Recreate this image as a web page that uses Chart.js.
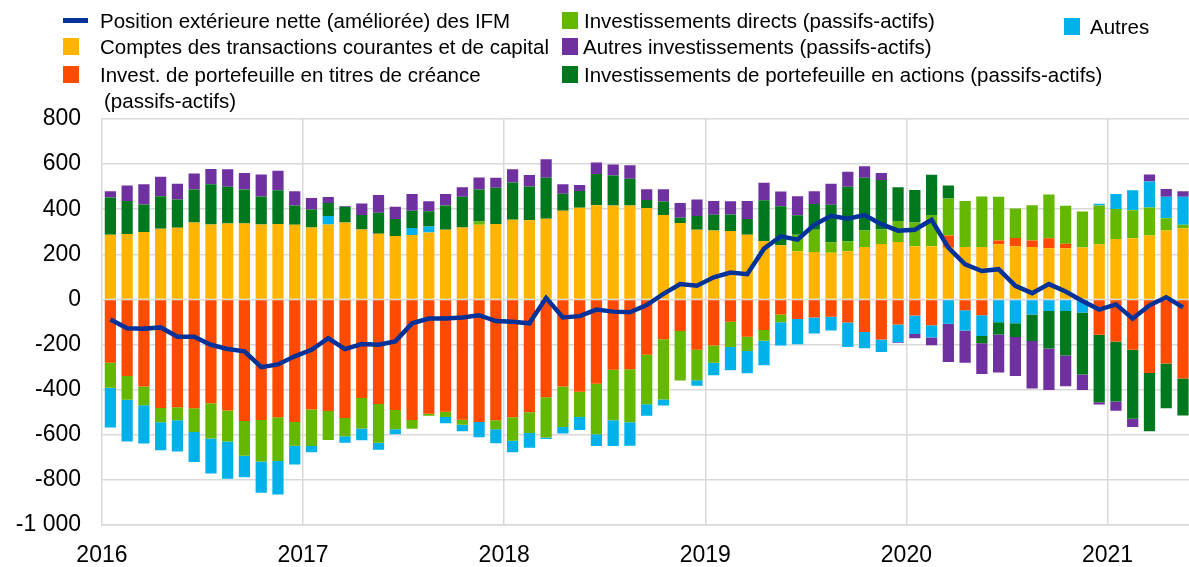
<!DOCTYPE html>
<html>
<head>
<meta charset="utf-8">
<title>Position extérieure nette des IFM</title>
<script src="https://cdn.jsdelivr.net/npm/chart.js@4"></script>
<style>
  html, body { margin: 0; padding: 0; background: #fff; overflow: hidden; }
  #wrap { position: relative; width: 1189px; height: 567px; overflow: hidden; }
  #chart { position: absolute; left: 0; top: 0; }
  .lg { position: absolute; font-family: 'Liberation Sans', Arial, sans-serif; font-size: 20.5px; color: #000; white-space: nowrap; line-height: 24px; }
  .sw { position: absolute; }
</style>
</head>
<body>
<div id="wrap">
  <canvas id="chart" width="1200" height="567"></canvas>
  <div id="legend"></div>
</div>
<script>
// months, Jan 2016 .. May 2021
const categories = [
  '2016-01','2016-02','2016-03','2016-04','2016-05','2016-06','2016-07','2016-08','2016-09','2016-10','2016-11','2016-12',
  '2017-01','2017-02','2017-03','2017-04','2017-05','2017-06','2017-07','2017-08','2017-09','2017-10','2017-11','2017-12',
  '2018-01','2018-02','2018-03','2018-04','2018-05','2018-06','2018-07','2018-08','2018-09','2018-10','2018-11','2018-12',
  '2019-01','2019-02','2019-03','2019-04','2019-05','2019-06','2019-07','2019-08','2019-09','2019-10','2019-11','2019-12',
  '2020-01','2020-02','2020-03','2020-04','2020-05','2020-06','2020-07','2020-08','2020-09','2020-10','2020-11','2020-12',
  '2021-01','2021-02','2021-03','2021-04','2021-05'
];

// Comptes des transactions courantes et de capital
const currentCapital = [
  287, 290, 299, 313, 318, 341, 332, 337, 337, 332, 334, 331,
  319, 332, 341, 310, 291, 281, 286, 297, 309, 319, 331, 335,
  353, 351, 358, 393, 407, 418, 417, 417, 405, 374, 339, 309,
  306, 303, 287, 258, 240, 214, 210, 207, 214, 232, 246, 255,
  236, 236, 229, 232, 233, 245, 236, 232, 227, 227, 230, 245,
  268, 271, 284, 306, 316
];
// Invest. de portefeuille en titres de créance (passifs-actifs)
const debtSecurities = [
  -281, -339, -386, -481, -478, -482, -460, -492, -539, -535, -522, -543,
  -488, -495, -526, -437, -463, -490, -535, -507, -498, -533, -543, -536,
  -522, -500, -434, -386, -409, -374, -312, -309, -245, -176, -140, -223,
  -204, -99, -165, -136, -67, -87, -80, -77, -102, -144, -178, -111,
  -71, -114, 55, -48, -70, 16, 36, 29, 44, 20, 0, -157,
  -187, -223, -326, -284, -351
];
// Investissements directs (passifs-actifs)
const directInv = [
  -111, -106, -83, -63, -58, -106, -156, -138, -154, -184, -194, -106,
  -162, -128, -80, -135, -172, -86, -38, -9, -23, -22, 15, -39,
  -105, -92, -178, -179, -112, -224, -224, -235, -220, -268, -219, -135,
  -77, -112, -64, -47, -34, 73, 99, 47, 44, 74, 64, 93,
  105, 138, 163, 204, 223, 194, 131, 157, 194, 168, 160, 172,
  133, 124, 124, 54, 15
];
// Autres
const others = [
  -176, -185, -170, -125, -138, -133, -156, -165, -95, -138, -149, -83,
  -28, 38, -29, -52, -31, -22, 31, 26, -28, -29, -68, -63,
  -50, -66, -7, -29, -58, -52, -114, -105, -51, -26, 0, -25,
  -55, -103, -98, -109, -103, -112, -71, -61, -109, -72, -55, -79,
  -82, -55, -108, -90, -92, -101, -106, -67, -51, -51, -58, 7,
  67, 89, 115, 95, 124
];
// Investissements de portefeuille en actions (passifs-actifs)
const equityInv = [
  165, 147, 122, 144, 125, 146, 179, 163, 150, 124, 150, 86,
  80, 58, 70, 64, 93, 76, 76, 68, 108, 136, 141, 160,
  166, 150, 181, 76, 74, 138, 133, 118, 36, 60, 23, 61,
  70, 74, 70, 182, 173, 86, 114, 166, 242, 233, 220, 149,
  144, 179, 58, 0, -32, -54, -61, -117, -166, -197, -275, -299,
  -265, -306, -258, -198, -163
];
// Autres investissements (passifs-actifs)
const otherInv = [
  28, 68, 90, 87, 70, 71, 67, 77, 74, 98, 87, 63,
  51, 26, 3, 51, 79, 54, 74, 44, 50, 42, 54, 45,
  58, 51, 83, 42, 26, 51, 48, 60, 48, 55, 66, 73,
  60, 58, 80, 77, 66, 85, 57, 93, 66, 52, 31, -3,
  -19, -34, -169, -143, -136, -169, -172, -211, -185, -137, -68, -10,
  -41, -36, 31, 35, 25
];
// Position extérieure nette (améliorée) des IFM
const mfiNet = [
  -89, -128, -130, -124, -165, -165, -201, -220, -230, -300, -288, -252,
  -223, -172, -220, -198, -201, -186, -106, -85, -85, -80, -70, -96,
  -99, -106, 7, -80, -74, -45, -54, -57, -25, 25, 68, 61,
  98, 119, 112, 225, 280, 265, 331, 371, 358, 374, 334, 305,
  309, 353, 230, 156, 126, 134, 60, 28, 68, 35, -7, -45,
  -22, -85, -26, 10, -35
];

const yTicks = [-1000, -800, -600, -400, -200, 0, 200, 400, 600, 800];

const COL = {
  blue: '#003299', orange: '#FFB400', red: '#FF4B00', lgreen: '#65B800',
  cyan: '#00B1EA', dgreen: '#00781E', purple: '#6F30A0'
};

function bar(label, data, color) {
  return { type: 'bar', label, data, backgroundColor: color, borderWidth: 0,
           order: 1, barPercentage: 0.67, categoryPercentage: 1 };
}

const datasets = [
  { type: 'line', label: 'Position extérieure nette (améliorée) des IFM', data: mfiNet,
    borderColor: COL.blue, backgroundColor: COL.blue, borderWidth: 4.5, pointRadius: 0,
    tension: 0, order: 0, stack: 'line' },
  bar('Comptes des transactions courantes et de capital', currentCapital, COL.orange),
  bar('Invest. de portefeuille en titres de créance (passifs-actifs)', debtSecurities, COL.red),
  bar('Investissements directs (passifs-actifs)', directInv, COL.lgreen),
  bar('Autres', others, COL.cyan),
  bar('Investissements de portefeuille en actions (passifs-actifs)', equityInv, COL.dgreen),
  bar('Autres investissements (passifs-actifs)', otherInv, COL.purple)
];

function fmt(v) {
  const s = String(Math.abs(v)).replace(/\B(?=(\d{3})+(?!\d))/g, ' ');
  return (v < 0 ? '-' : '') + s;
}

const font = { family: "'Liberation Sans', Arial, sans-serif", size: 23 };

new Chart(document.getElementById('chart'), {
  data: { labels: categories, datasets },
  options: {
    responsive: false,
    animation: false,
    layout: { padding: { top: 119, right: 2, left: 0, bottom: 0 } },
    plugins: { legend: { display: false }, tooltip: { enabled: false } },
    scales: {
      x: {
        stacked: true,
        offset: true,
        grid: {
          offset: true,
          drawTicks: false,
          color: c => (c.index > 0 && c.index % 12 === 0) ? '#d9d9d9' : 'rgba(0,0,0,0)',
          lineWidth: 1.5
        },
        border: { display: true, color: '#d9d9d9', width: 1.5 },
        ticks: {
          autoSkip: false, maxRotation: 0, minRotation: 0,
          padding: 17, labelOffset: -8.43, color: '#000', font,
          callback: (v, i) => categories[i].endsWith('-01') ? categories[i].slice(0, 4) : ''
        },
        afterFit: s => { s.height = 42; }
      },
      y: {
        stacked: true,
        min: -1000, max: 800,
        afterBuildTicks: s => { s.ticks = yTicks.map(v => ({ value: v })); },
        grid: { color: '#d9d9d9', lineWidth: 1.5, drawTicks: false },
        border: { display: true, color: '#d9d9d9', width: 1.5 },
        ticks: { padding: 21, color: '#000', font, callback: v => fmt(v) },
        afterFit: s => { s.width = 102; }
      }
    }
  }
});

// legend, laid out like the original (three columns)
const legendItems = [
  { ds: 0, x: 63, y: 9, tx: 100, line: true },
  { ds: 1, x: 63, y: 35, tx: 100 },
  { ds: 2, x: 63, y: 63, tx: 100, text: 'Invest. de portefeuille en titres de créance', extra: '(passifs-actifs)' },
  { ds: 3, x: 562, y: 9, tx: 584 },
  { ds: 6, x: 562, y: 35, tx: 583 },
  { ds: 5, x: 562, y: 63, tx: 584 },
  { ds: 4, x: 1064, y: 15, tx: 1090 }
];
const lg = document.getElementById('legend');
legendItems.forEach(it => {
  const d = datasets[it.ds];
  const sw = document.createElement('div');
  sw.className = 'sw';
  sw.style.background = d.type === 'line' ? d.borderColor : d.backgroundColor;
  sw.style.left = it.x + 'px';
  if (it.line) { sw.style.top = (it.y + 9) + 'px'; sw.style.width = '25px'; sw.style.height = '5px'; }
  else { sw.style.top = (it.y + 3) + 'px'; sw.style.width = '16px'; sw.style.height = '17px'; }
  lg.appendChild(sw);
  const t = document.createElement('div');
  t.className = 'lg';
  t.style.left = it.tx + 'px';
  t.style.top = it.y + 'px';
  t.textContent = it.text || d.label;
  lg.appendChild(t);
  if (it.extra) {
    const e = document.createElement('div');
    e.className = 'lg';
    e.style.left = (it.tx + 4) + 'px';
    e.style.top = (it.y + 26) + 'px';
    e.textContent = it.extra;
    lg.appendChild(e);
  }
});
</script>
</body>
</html>
